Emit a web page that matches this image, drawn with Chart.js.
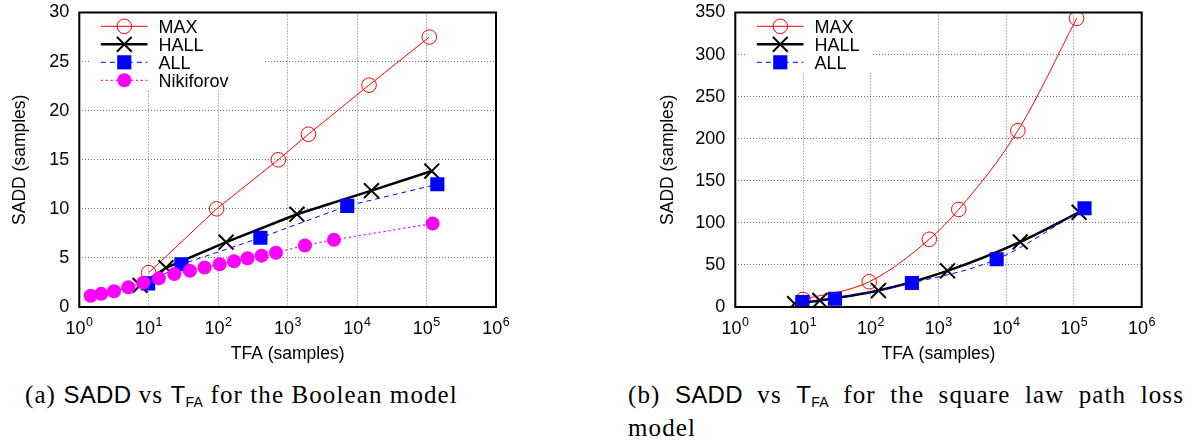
<!DOCTYPE html>
<html>
<head>
<meta charset="utf-8">
<title>SADD vs TFA</title>
<script src="https://cdn.jsdelivr.net/npm/chart.js@4.4.0/dist/chart.umd.min.js"></script>
<style>
  html, body { margin: 0; padding: 0; background: #fff; }
  body { position: relative; width: 1194px; height: 445px; overflow: hidden; }
  canvas { position: absolute; top: 0; }
  .cap {
    position: absolute;
    font-family: 'Liberation Serif', 'Times New Roman', serif;
    font-size: 25px;
    line-height: 33px;
    color: #000;
    letter-spacing: 1.1px;
    white-space: normal;
  }
  .sf { font-family: 'Liberation Sans', Arial, Helvetica, sans-serif; font-size: 24px; letter-spacing: 0.3px; }
  .sf sub { font-size: 14px; vertical-align: -4px; line-height: 0; }
</style>
</head>
<body>
<canvas id="chartA" width="560" height="375" style="left:0px"></canvas>
<canvas id="chartB" width="574" height="375" style="left:620px"></canvas>
<div class="cap" id="capA" style="left:25px; top:378px;">(a) <span class="sf">SADD</span> vs <span class="sf">T<sub>FA</sub></span> for the Boolean model</div>
<div class="cap" id="capB" style="left:628px; top:378px; width:556px; text-align:justify;">(b) <span class="sf">SADD</span> vs <span class="sf">T<sub>FA</sub></span> for the square law path loss model</div>
<script>
// ---- data -------------------------------------------------------------
// false-alarm times (samples) at which each procedure was evaluated
const tfaMax       = [10, 95, 732, 1990, 14850, 109500];
const tfaHall      = [7.5, 17.7, 130, 1360, 16100, 119000];
const tfaAll       = [9.8, 29.6, 405, 7220, 143000];
const tfaNikiforov = [1.46, 2.07, 3.16, 5.08, 8.33, 14.0, 23.3, 39.2, 63.8, 105, 169, 265, 422, 679, 1775, 4645, 122400];

// (a) Boolean model: detection delay (samples)
const saddMaxBoolean       = [3.5, 10.0, 15.0, 17.6, 22.6, 27.5];
const saddHallBoolean      = [2.2, 4.0, 6.6, 9.45, 11.85, 13.85];
const saddAllBoolean       = [2.4, 4.35, 7.05, 10.3, 12.5];
const saddNikiforovBoolean = [1.14, 1.34, 1.61, 2.01, 2.48, 2.92, 3.35, 3.69, 4.02, 4.36, 4.66, 4.96, 5.23, 5.53, 6.27, 6.84, 8.51];

// (b) square law path loss model: detection delay (samples)
const saddMaxPathLoss  = [9, 30, 80.5, 116, 209.5, 343];
const saddHallPathLoss = [4, 7.8, 19.6, 43, 77.4, 112.6];
const saddAllPathLoss  = [5.9, 9.8, 28.5, 56.7, 117.3];

// axis ticks
const tfaDecades      = [1, 10, 100, 1000, 10000, 100000, 1000000];
const tfaExponents    = ['0', '1', '2', '3', '4', '5', '6'];
const saddTicksA      = [0, 5, 10, 15, 20, 25, 30];
const saddTicksB      = [0, 50, 100, 150, 200, 250, 300, 350];

const seriesNames = ['MAX', 'HALL', 'ALL', 'Nikiforov'];

// ---- helpers ----------------------------------------------------------
const SANS = "'Liberation Sans', Arial, Helvetica, sans-serif";
Chart.defaults.font.family = SANS;
Chart.defaults.color = '#000';

const pts = (xs, ys) => xs.map((x, i) => ({ x: x, y: ys[i] }));

const styles = {
  MAX:       { color: '#ff0000', width: 1,   dash: [],     pointStyle: 'circle',   radius: 7.3, fill: 'rgba(0,0,0,0)', pbw: 1,   order: 4 },
  HALL:      { color: '#000000', width: 2.5, dash: [],     pointStyle: 'crossRot', radius: 10.5, fill: '#000000',       pbw: 2,   order: 3 },
  ALL:       { color: '#0000ff', width: 1,   dash: [5, 4], pointStyle: 'rect',     radius: 10,  fill: '#0000ff',       pbw: 0,   order: 2 },
  Nikiforov: { color: '#ff00ff', width: 1.3, dash: [2, 3], pointStyle: 'circle',   radius: 7,   fill: '#ff00ff',       pbw: 0,   order: 1 }
};

function series(name, xs, ys, smooth) {
  const s = styles[name];
  return {
    label: name,
    data: pts(xs, ys),
    borderColor: s.color,
    borderWidth: s.width,
    borderDash: s.dash,
    backgroundColor: s.fill,
    pointStyle: s.pointStyle,
    pointRadius: s.radius,
    pointHoverRadius: s.radius,
    pointBackgroundColor: s.fill,
    pointBorderColor: s.color,
    pointBorderWidth: s.pbw,
    fill: false,
    showLine: true,
    order: s.order,
    cubicInterpolationMode: smooth ? 'monotone' : 'default',
    tension: 0
  };
}

// key box in the upper-left corner, gnuplot style: line sample with marker, then label
const keyPlugin = {
  id: 'gnuKey',
  afterDatasetsDraw(chart, args, opts) {
    const ctx = chart.ctx;
    const a = chart.chartArea;
    ctx.save();
    ctx.fillStyle = '#fff';
    ctx.fillRect(a.left + 10, a.top + 1, opts.boxWidth - 10, opts.boxHeight);
    chart.data.datasets.forEach((ds, i) => {
      const s = styles[ds.label];
      const y = a.top + 13.8 + i * 18;
      const x0 = a.left + 21.5, x1 = a.left + 68.2, xm = a.left + 45;
      ctx.strokeStyle = s.color;
      ctx.lineWidth = s.width;
      ctx.setLineDash(s.dash);
      ctx.beginPath(); ctx.moveTo(x0, y); ctx.lineTo(x1, y); ctx.stroke();
      ctx.setLineDash([]);
      ctx.fillStyle = s.fill;
      ctx.lineWidth = s.pbw;
      const r = s.radius;
      ctx.beginPath();
      if (s.pointStyle === 'circle') {
        ctx.arc(xm, y, r, 0, Math.PI * 2);
        ctx.fill();
        if (s.pbw > 0) ctx.stroke();
      } else if (s.pointStyle === 'rect') {
        const h = r * Math.SQRT1_2;
        ctx.fillRect(xm - h, y - h, 2 * h, 2 * h);
      } else if (s.pointStyle === 'crossRot') {
        const h = r * Math.SQRT1_2;
        ctx.moveTo(xm - h, y - h); ctx.lineTo(xm + h, y + h);
        ctx.moveTo(xm + h, y - h); ctx.lineTo(xm - h, y + h);
        ctx.stroke();
      }
      ctx.fillStyle = '#000';
      ctx.font = '18px ' + SANS;
      ctx.textAlign = 'left';
      ctx.textBaseline = 'alphabetic';
      ctx.fillText(ds.label, a.left + 79.2, y + 6.6);
    });
    ctx.restore();
  }
};

// frame around the plot area and decade labels 10^k under the x axis
const framePlugin = {
  id: 'frameAndDecades',
  afterDraw(chart) {
    const ctx = chart.ctx;
    const a = chart.chartArea;
    const xs = chart.scales.x;
    ctx.save();
    ctx.strokeStyle = '#000';
    ctx.lineWidth = 2;
    ctx.setLineDash([]);
    ctx.strokeRect(a.left, a.top, a.right - a.left, a.bottom - a.top);
    ctx.fillStyle = '#000';
    ctx.textBaseline = 'alphabetic';
    ctx.textAlign = 'left';
    tfaDecades.forEach((v, i) => {
      const px = xs.getPixelForValue(v);
      ctx.font = '18px ' + SANS;
      const wb = ctx.measureText('10').width;
      ctx.font = '12.5px ' + SANS;
      const we = ctx.measureText(tfaExponents[i]).width;
      const x0 = px - (wb + we + 0.5) / 2;
      ctx.font = '18px ' + SANS;
      ctx.fillText('10', x0, a.bottom + 26.5);
      ctx.font = '12.5px ' + SANS;
      ctx.fillText(tfaExponents[i], x0 + wb + 0.5, a.bottom + 18.5);
    });
    ctx.restore();
  }
};

function makeChart(id, datasets, yMax, yStep, yTicks, yWidth, rightPad, yTitlePad, key) {
  return new Chart(document.getElementById(id), {
    type: 'line',
    data: { datasets: datasets },
    plugins: [keyPlugin, framePlugin],
    options: {
      responsive: false,
      animation: false,
      devicePixelRatio: 1,
      layout: { padding: { top: 8.3, right: rightPad, bottom: 0, left: 0 } },
      plugins: {
        legend: { display: false },
        tooltip: { enabled: false },
        gnuKey: key
      },
      scales: {
        x: {
          type: 'logarithmic',
          min: 1,
          max: 1000000,
          afterBuildTicks(s) { s.ticks = tfaDecades.map(v => ({ value: v, major: true })); },
          afterFit(s) { s.height = 68; s.paddingLeft = 0; s.paddingRight = 0; },
          ticks: { display: false },
          grid: { color: 'rgba(0,0,0,0.55)', lineWidth: 1, drawTicks: false },
          border: { display: false, dash: [1, 2] },
          title: { display: true, text: 'TFA (samples)', font: { size: 17.5 }, padding: { top: 0, bottom: 10.6 } }
        },
        y: {
          type: 'linear',
          min: 0,
          max: yMax,
          afterFit(s) { s.width = yWidth; s.paddingTop = 0; s.paddingBottom = 0; },
          ticks: {
            stepSize: yStep,
            padding: 10,
            font: { size: 18 },
            callback: (v) => (yTicks.includes(v) ? String(v) : '')
          },
          grid: { color: 'rgba(0,0,0,0.55)', lineWidth: 1, drawTicks: false },
          border: { display: false, dash: [1, 2] },
          title: { display: true, text: 'SADD (samples)', font: { size: 17.5 }, padding: { top: yTitlePad, bottom: 0 } }
        }
      }
    }
  });
}

makeChart('chartA', [
  series('MAX', tfaMax, saddMaxBoolean, false),
  series('HALL', tfaHall, saddHallBoolean, false),
  series('ALL', tfaAll, saddAllBoolean, false),
  series('Nikiforov', tfaNikiforov, saddNikiforovBoolean, false)
], 30, 2.5, saddTicksA, 79.3, 64, 10, { boxWidth: 184, boxHeight: 76 });

makeChart('chartB', [
  series('MAX', tfaMax, saddMaxPathLoss, true),
  series('HALL', tfaHall, saddHallPathLoss, true),
  series('ALL', tfaAll, saddAllPathLoss, true)
], 350, 25, saddTicksB, 115.3, 52.3, 38, { boxWidth: 136, boxHeight: 59 });
</script>
</body>
</html>
